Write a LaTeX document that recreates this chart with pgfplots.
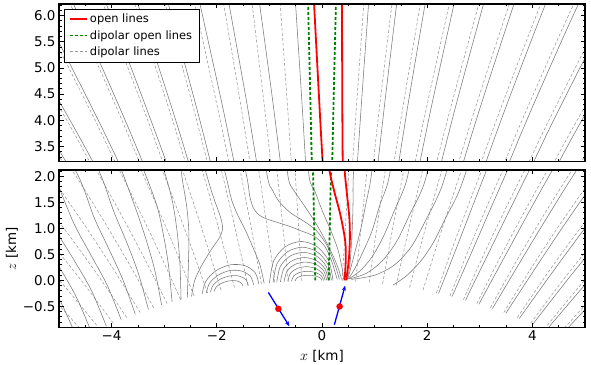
\documentclass[border=0pt]{standalone}
\usepackage{fontspec}
\setmainfont{DejaVu Sans}
\usepackage{pgfplots}
\pgfplotsset{compat=1.18}
\usetikzlibrary{arrows.meta}
\definecolor{mplgreen}{rgb}{0,0.5,0}
\definecolor{mplblue}{rgb}{0,0,1}

\pgfplotsset{
  dipc/.style={black!40, line width=0.55bp, dash pattern=on 3bp off 2bp, smooth, forget plot},
  realc/.style={black!52, line width=0.55bp, smooth, forget plot},
  greenc/.style={mplgreen, line width=1.8bp, dash pattern=on 3bp off 2bp, smooth, forget plot},
  redc/.style={red, line width=1.8bp, smooth, forget plot},
  panel/.style={
    scale only axis, width=526bp,
    xmin=-5, xmax=5,
    axis on top,
    axis line style={line width=1.4bp},
    tick style={black, line width=0.8bp},
    major tick length=4.5bp, minor tick length=2.5bp,
    tick align=inside, tick pos=both,
    xticklabel pos=lower, yticklabel pos=left,
    xtick={-4,-2,0,2,4},
    minor xtick={-5,-4.5,...,5},
    tick label style={font=\fontsize{13.5}{16}\selectfont},
    label style={font=\fontsize{13.5}{16}\selectfont},
  }
}

\newcommand{\dipolar}{%
\addplot[dipc] coordinates {(0.384,-0.007)(0.443,0.991)(0.5048,1.989)(0.5692,2.988)(0.6705,4.484)(0.8139,6.48)};
\addplot[dipc] coordinates {(0.64,-0.021)(0.7384,0.975)(0.8413,1.97)(0.9486,2.965)(1.1175,4.457)(1.3565,6.444)};
\addplot[dipc] coordinates {(0.896,-0.04)(1.0337,0.951)(1.1778,1.942)(1.3281,2.932)(1.5644,4.415)(1.899,6.39)};
\addplot[dipc] coordinates {(1.152,-0.067)(1.3291,0.919)(1.5143,1.904)(1.7075,2.887)(2.0114,4.36)(2.4416,6.318)};
\addplot[dipc] coordinates {(1.408,-0.1)(1.6244,0.879)(1.8509,1.856)(2.087,2.831)(2.4584,4.29)(2.9842,6.228)(3.4003,7.676)};
\addplot[dipc] coordinates {(1.664,-0.139)(1.9197,0.831)(2.1874,1.799)(2.4664,2.764)(2.9054,4.206)(3.5268,6.119)(4.0185,7.546)};
\addplot[dipc] coordinates {(1.92,-0.186)(2.2151,0.775)(2.5239,1.732)(2.8459,2.685)(3.3524,4.107)(4.0694,5.99)(4.6367,7.393)};
\addplot[dipc] coordinates {(2.176,-0.24)(2.5104,0.71)(2.8604,1.654)(3.2253,2.594)(3.7994,3.993)(4.6119,5.842)(5.2549,7.216)};
\addplot[dipc] coordinates {(2.432,-0.3)(2.8058,0.636)(3.197,1.566)(3.6048,2.49)(4.2463,3.864)(5.1545,5.674)};
\addplot[dipc] coordinates {(2.688,-0.368)(3.1011,0.554)(3.5335,1.468)(3.9842,2.374)(4.6933,3.719)(5.6971,5.485)};
\addplot[dipc] coordinates {(2.944,-0.443)(3.3965,0.463)(3.87,1.359)(4.3637,2.246)(5.1403,3.558)};
\addplot[dipc] coordinates {(3.2,-0.526)(3.6918,0.362)(4.2065,1.239)(4.7431,2.104)(5.5873,3.38)};
\addplot[dipc] coordinates {(3.456,-0.616)(3.9872,0.252)(4.543,1.107)(5.1226,1.948)};
\addplot[dipc] coordinates {(3.712,-0.714)(4.2825,0.132)(4.8796,0.963)(5.502,1.778)};
\addplot[dipc] coordinates {(3.968,-0.821)(4.5778,0.002)(5.2161,0.807)};
\addplot[dipc] coordinates {(4.224,-0.936)(4.8732,-0.138)(5.5526,0.638)};
\addplot[dipc] coordinates {(4.48,-1.06)(5.1685,-0.29)(5.8892,0.456)};
\addplot[dipc] coordinates {(-0.384,-0.007)(-0.443,0.991)(-0.5048,1.989)(-0.5692,2.988)(-0.6705,4.484)(-0.8139,6.48)};
\addplot[dipc] coordinates {(-0.64,-0.021)(-0.7384,0.975)(-0.8413,1.97)(-0.9486,2.965)(-1.1175,4.457)(-1.3565,6.444)};
\addplot[dipc] coordinates {(-0.896,-0.04)(-1.0337,0.951)(-1.1778,1.942)(-1.3281,2.932)(-1.5644,4.415)(-1.899,6.39)};
\addplot[dipc] coordinates {(-1.152,-0.067)(-1.3291,0.919)(-1.5143,1.904)(-1.7075,2.887)(-2.0114,4.36)(-2.4416,6.318)};
\addplot[dipc] coordinates {(-1.408,-0.1)(-1.6244,0.879)(-1.8509,1.856)(-2.087,2.831)(-2.4584,4.29)(-2.9842,6.228)(-3.4003,7.676)};
\addplot[dipc] coordinates {(-1.664,-0.139)(-1.9197,0.831)(-2.1874,1.799)(-2.4664,2.764)(-2.9054,4.206)(-3.5268,6.119)(-4.0185,7.546)};
\addplot[dipc] coordinates {(-1.92,-0.186)(-2.2151,0.775)(-2.5239,1.732)(-2.8459,2.685)(-3.3524,4.107)(-4.0694,5.99)(-4.6367,7.393)};
\addplot[dipc] coordinates {(-2.176,-0.24)(-2.5104,0.71)(-2.8604,1.654)(-3.2253,2.594)(-3.7994,3.993)(-4.6119,5.842)(-5.2549,7.216)};
\addplot[dipc] coordinates {(-2.432,-0.3)(-2.8058,0.636)(-3.197,1.566)(-3.6048,2.49)(-4.2463,3.864)(-5.1545,5.674)};
\addplot[dipc] coordinates {(-2.688,-0.368)(-3.1011,0.554)(-3.5335,1.468)(-3.9842,2.374)(-4.6933,3.719)(-5.6971,5.485)};
\addplot[dipc] coordinates {(-2.944,-0.443)(-3.3965,0.463)(-3.87,1.359)(-4.3637,2.246)(-5.1403,3.558)};
\addplot[dipc] coordinates {(-3.2,-0.526)(-3.6918,0.362)(-4.2065,1.239)(-4.7431,2.104)(-5.5873,3.38)};
\addplot[dipc] coordinates {(-3.456,-0.616)(-3.9872,0.252)(-4.543,1.107)(-5.1226,1.948)};
\addplot[dipc] coordinates {(-3.712,-0.714)(-4.2825,0.132)(-4.8796,0.963)(-5.502,1.778)};
\addplot[dipc] coordinates {(-3.968,-0.821)(-4.5778,0.002)(-5.2161,0.807)};
\addplot[dipc] coordinates {(-4.224,-0.936)(-4.8732,-0.138)(-5.5526,0.638)};
\addplot[dipc] coordinates {(-4.48,-1.06)(-5.1685,-0.29)(-5.8892,0.456)};
}

\newcommand{\reallines}{%
% right side fan and lines
\addplot[realc] coordinates {(0.48,0.02)(0.53,0.3)(0.56,0.7)(0.58,1.1)(0.59,1.5)(0.595,1.989)(0.659,2.988)(0.761,4.484)(0.904,6.48)};
\addplot[realc] coordinates {(0.49,0.02)(0.55,0.25)(0.64,0.6)(0.74,1.0)(0.84,1.5)(0.931,1.97)(1.039,2.965)(1.208,4.457)(1.447,6.444)};
\addplot[realc] coordinates {(0.5,0.03)(0.62,0.22)(0.78,0.55)(0.95,0.95)(1.1,1.45)(1.268,1.942)(1.418,2.932)(1.654,4.415)(1.989,6.39)};
\addplot[realc] coordinates {(0.51,0.03)(0.72,0.18)(0.95,0.45)(1.17,0.85)(1.38,1.35)(1.604,1.904)(1.798,2.887)(2.101,4.36)(2.532,6.318)};
\addplot[realc] coordinates {(0.53,0.03)(0.85,0.14)(1.15,0.38)(1.42,0.75)(1.66,1.25)(1.941,1.856)(2.177,2.831)(2.548,4.29)(3.074,6.228)(3.49,7.676)};
\addplot[realc] coordinates {(0.56,0.02)(1.0,0.1)(1.38,0.3)(1.7,0.65)(1.97,1.15)(2.277,1.799)(2.556,2.764)(2.995,4.206)(3.617,6.119)(4.109,7.546)};
\addplot[realc] coordinates {(1.35,-0.09)(1.62,0.1)(1.9,0.4)(2.13,0.75)(2.35,1.2)(2.614,1.732)(2.936,2.685)(3.442,4.107)(4.159,5.99)(4.727,7.393)};
\addplot[realc] coordinates {(2.216,-0.25)(2.59,0.71)(2.95,1.654)(3.315,2.594)(3.889,3.993)(4.702,5.842)(5.345,7.216)};
\addplot[realc] coordinates {(2.472,-0.31)(2.886,0.636)(3.287,1.566)(3.695,2.49)(4.336,3.864)(5.245,5.674)};
\addplot[realc] coordinates {(2.728,-0.38)(3.181,0.554)(3.624,1.468)(4.074,2.374)(4.783,3.719)(5.787,5.485)};
\addplot[realc] coordinates {(2.984,-0.455)(3.477,0.463)(3.96,1.359)(4.454,2.246)(5.23,3.558)};
\addplot[realc] coordinates {(3.24,-0.54)(3.772,0.362)(4.297,1.239)(4.833,2.104)(5.677,3.38)};
\addplot[realc] coordinates {(3.496,-0.63)(4.067,0.252)(4.633,1.107)(5.213,1.948)};
\addplot[realc] coordinates {(3.752,-0.73)(4.363,0.132)(4.97,0.963)(5.592,1.778)};
\addplot[realc] coordinates {(4.008,-0.84)(4.658,0.002)(5.306,0.807)};
\addplot[realc] coordinates {(4.264,-0.955)(4.953,-0.138)(5.643,0.638)};
\addplot[realc] coordinates {(4.52,-1.08)(5.249,-0.29)};
% left side converging to the spot
\addplot[realc] coordinates {(0.41,0.02)(0.38,0.25)(0.3,0.6)(0.17,0.95)(0.0,1.35)(-0.13,1.7)(-0.245,1.989)(-0.3,2.988)(-0.39,4.484)(-0.52,6.48)};
\addplot[realc] coordinates {(0.37,0.02)(0.32,0.2)(0.22,0.45)(0.05,0.8)(-0.15,1.15)(-0.38,1.5)(-0.55,1.75)(-0.641,1.97)(-0.762,2.965)(-0.948,4.457)(-1.217,6.444)};
\addplot[realc] coordinates {(0.33,0.02)(0.31,0.1)(0.24,0.32)(0.1,0.66)(-0.1,0.95)(-0.35,1.14)(-0.6,1.3)(-0.82,1.52)(-0.95,1.75)(-1.028,1.942)(-1.198,2.932)(-1.444,4.415)(-1.799,6.39)};
\addplot[realc] coordinates {(0.29,0.02)(0.25,0.15)(0.18,0.38)(0.05,0.66)(-0.15,0.85)(-0.42,0.96)(-0.62,1.04)(-1.05,1.18)(-1.2,1.26)(-1.31,1.4)(-1.38,1.65)(-1.414,1.904)(-1.608,2.887)(-1.911,4.36)(-2.342,6.318)};
\addplot[realc] coordinates {(-1.1,-0.06)(-1.18,0.3)(-1.3,0.6)(-1.45,0.95)(-1.6,1.25)(-1.72,1.55)(-1.791,1.856)(-2.027,2.831)(-2.398,4.29)(-2.924,6.228)(-3.34,7.676)};
\addplot[realc] coordinates {(-2.48,-0.31)(-2.42,0.0)(-2.28,0.3)(-2.1,0.6)(-1.95,0.82)(-1.89,1.0)(-1.93,1.22)(-2.03,1.5)(-2.127,1.799)(-2.406,2.764)(-2.845,4.206)(-3.467,6.119)(-3.959,7.546)};
% far left
\addplot[realc] coordinates {(-2.56,-0.33)(-2.54,0.3)(-2.53,0.9)(-2.57,1.4)(-2.65,1.9)(-2.786,2.685)(-3.292,4.107)(-4.009,5.99)(-4.577,7.393)};
\addplot[realc] coordinates {(-2.68,-0.366)(-2.7,0.3)(-2.75,0.9)(-2.84,1.5)(-2.97,2.0)(-3.165,2.594)(-3.739,3.993)(-4.552,5.842)(-5.195,7.216)};
\addplot[realc] coordinates {(-2.85,-0.41)(-2.92,0.3)(-3.02,0.9)(-3.16,1.5)(-3.545,2.49)(-4.186,3.864)(-5.095,5.674)};
\addplot[realc] coordinates {(-3.05,-0.47)(-3.18,0.2)(-3.35,0.8)(-3.55,1.4)(-3.924,2.374)(-4.633,3.719)(-5.637,5.485)};
\addplot[realc] coordinates {(-3.3,-0.56)(-3.48,0.1)(-3.7,0.7)(-3.95,1.3)(-4.304,2.246)(-5.08,3.558)};
\addplot[realc] coordinates {(-3.55,-0.65)(-3.78,0.0)(-4.05,0.6)(-4.33,1.2)(-4.683,2.104)(-5.527,3.38)};
\addplot[realc] coordinates {(-3.82,-0.75)(-4.08,-0.1)(-4.4,0.5)(-4.72,1.1)(-5.063,1.948)};
\addplot[realc] coordinates {(-4.1,-0.88)(-4.38,-0.2)(-4.72,0.4)(-5.08,1.0)(-5.442,1.778)};
\addplot[realc] coordinates {(-4.38,-1.0)(-4.68,-0.3)(-5.05,0.35)(-5.4,0.9)};
\addplot[realc] coordinates {(-4.65,-1.12)(-4.95,-0.45)(-5.3,0.2)};
% left closed loops
\addplot[realc] coordinates {(-2.28,-0.263)(-2.208,-0.015)(-2.01,0.19)(-1.74,0.3)(-1.47,0.285)(-1.272,0.15)(-1.2,-0.072)};
\addplot[realc] coordinates {(-2.2,-0.245)(-2.14,-0.056)(-1.975,0.1)(-1.75,0.19)(-1.525,0.18)(-1.36,0.08)(-1.3,-0.085)};
\addplot[realc] coordinates {(-2.12,-0.225)(-2.072,-0.095)(-1.94,0.02)(-1.76,0.085)(-1.58,0.085)(-1.448,0.015)(-1.4,-0.098)};
\addplot[realc] coordinates {(-2.05,-0.212)(-2.013,-0.128)(-1.9125,-0.055)(-1.775,-0.01)(-1.6375,-0.005)(-1.537,-0.045)(-1.5,-0.113)};
% central closed loops
\addplot[realc] coordinates {(-1.0,-0.05)(-0.919,0.374)(-0.698,0.648)(-0.395,0.748)(-0.093,0.648)(0.129,0.374)(0.21,0.0)};
\addplot[realc] coordinates {(-0.93,-0.04)(-0.856,0.319)(-0.653,0.552)(-0.375,0.638)(-0.098,0.552)(0.106,0.319)(0.18,0.0)};
\addplot[realc] coordinates {(-0.86,-0.035)(-0.792,0.27)(-0.608,0.466)(-0.355,0.539)(-0.103,0.466)(0.082,0.27)(0.15,0.0)};
\addplot[realc] coordinates {(-0.79,-0.03)(-0.729,0.22)(-0.563,0.381)(-0.335,0.44)(-0.108,0.381)(0.059,0.22)(0.12,0.0)};
\addplot[realc] coordinates {(-0.72,-0.025)(-0.666,0.176)(-0.518,0.305)(-0.315,0.352)(-0.113,0.305)(0.036,0.176)(0.09,0.0)};
\addplot[realc] coordinates {(-0.65,-0.02)(-0.602,0.132)(-0.473,0.229)(-0.295,0.264)(-0.118,0.229)(0.012,0.132)(0.06,0.0)};
\addplot[realc] coordinates {(-0.58,-0.015)(-0.539,0.088)(-0.428,0.153)(-0.275,0.176)(-0.123,0.153)(-0.011,0.088)(0.03,0.0)};
\addplot[realc] coordinates {(-0.51,-0.01)(-0.476,0.05)(-0.383,0.086)(-0.255,0.099)(-0.128,0.086)(-0.034,0.05)(0.0,0.0)};
}

\newcommand{\openlines}{%
\addplot[greenc] coordinates {(0.128,-0.001)(0.1477,0.999)(0.1683,1.999)(0.1897,2.999)(0.2235,4.498)(0.2713,6.498)};
\addplot[greenc] coordinates {(-0.128,-0.001)(-0.1477,0.999)(-0.1683,1.999)(-0.1897,2.999)(-0.2235,4.498)(-0.2713,6.498)};
\addplot[redc] coordinates {(0.43,0.0)(0.45,0.35)(0.45,0.65)(0.42,0.9)(0.34,1.3)(0.23,1.72)(0.14,2.12)(0.06,2.7)(0.013,3.2)(-0.06,4.5)(-0.16,6.4)};
\addplot[redc] coordinates {(0.46,0.0)(0.51,0.4)(0.53,0.8)(0.52,1.2)(0.47,1.7)(0.43,2.12)(0.41,2.7)(0.394,3.2)(0.385,4.5)(0.38,6.4)};
}

\begin{document}
\begin{tikzpicture}
\useasboundingbox (0,0) rectangle (591bp,365bp);
% top panel
\begin{axis}[panel, at={(59bp,203.3bp)}, anchor=south west, height=157.7bp,
  ymin=3.21, ymax=6.22,
  ytick={3.5,4,4.5,5,5.5,6}, yticklabels={3.5,4.0,4.5,5.0,5.5,6.0},
  minor ytick={3.3,3.4,3.5,3.6,3.7,3.8,3.9,4.0,4.1,4.2,4.3,4.4,4.5,4.6,4.7,4.8,4.9,5.0,5.1,5.2,5.3,5.4,5.5,5.6,5.7,5.8,5.9,6.0,6.1,6.2},
  xticklabels={},
  legend cell align=left,
  legend style={at={(0.0095,0.968)}, anchor=north west, draw=black,
    fill=white, font=\fontsize{11.5}{14}\selectfont, inner xsep=5bp, inner ysep=3bp, row sep=2bp},
]
\addlegendimage{legend image code/.code={\draw[red, line width=1.8bp] (0bp,0bp) -- (17bp,0bp);}}
\addlegendentry{open lines}
\addlegendimage{legend image code/.code={\draw[mplgreen, line width=1.8bp, dash pattern=on 3bp off 2bp] (0bp,0bp) -- (17bp,0bp);}}
\addlegendentry{dipolar open lines}
\addlegendimage{legend image code/.code={\draw[black!40, line width=0.55bp, dash pattern=on 3bp off 2bp] (0bp,0bp) -- (17bp,0bp);}}
\addlegendentry{dipolar lines}
\dipolar
\reallines
\openlines
\end{axis}
% bottom panel
\begin{axis}[panel, at={(59bp,37.7bp)}, anchor=south west, height=157.3bp,
  ymin=-0.9, ymax=2.12,
  ytick={-0.5,0,0.5,1,1.5,2}, yticklabels={−0.5,0.0,0.5,1.0,1.5,2.0},
  minor ytick={-0.9,-0.8,-0.7,-0.6,-0.5,-0.4,-0.3,-0.2,-0.1,0,0.1,0.2,0.3,0.4,0.5,0.6,0.7,0.8,0.9,1.0,1.1,1.2,1.3,1.4,1.5,1.6,1.7,1.8,1.9,2.0,2.1},
  xticklabels={−4,−2,0,2,4},
  xlabel={$x$ [km]}, ylabel={$z$ [km]},
  xlabel style={at={(axis description cs:0.5,-0.184)}, anchor=center},
  ylabel style={at={(axis description cs:-0.0894,0.5)}, anchor=center},
]
\dipolar
\reallines
\openlines
\addplot[mplblue, line width=1.3bp, -{Stealth[length=5bp,width=4bp]}] coordinates {(-1.02,-0.23) (-0.62,-0.88)};
\addplot[mplblue, line width=1.3bp, -{Stealth[length=5bp,width=4bp]}] coordinates {(0.235,-0.85) (0.44,-0.1)};
\addplot[only marks, mark=*, mark size=3bp, red, mark options={draw=red, fill=red}] coordinates {(-0.83,-0.545) (0.335,-0.5)};
\end{axis}
\end{tikzpicture}
\end{document}
